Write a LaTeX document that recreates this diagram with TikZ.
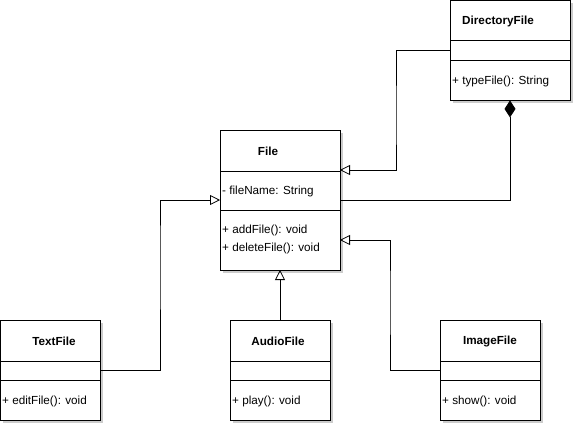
\documentclass[tikz,border=0pt]{standalone}
\usepackage{fontspec}
\setmainfont{Liberation Sans}
\usetikzlibrary{arrows.meta}
\tikzset{
  classbox/.style={draw=black, line width=0.8pt, fill=white, rectangle, anchor=north west, inner sep=0pt, outer sep=0pt},
  shadowbox/.style={fill=black!20, draw=none},
  sepline/.style={draw=black, line width=0.8pt},
  titletext/.style={font=\fontsize{11.7}{13}\selectfont\bfseries, inner sep=0pt},
  membertext/.style={font=\fontsize{11.7}{13}\selectfont, anchor=west, inner sep=0pt},
  conn/.style={draw=black, line width=0.8pt},
  inherit/.style={conn, -{Triangle[open, length=10pt, width=10pt, fill=white]}},
  compose/.style={conn, {Diamond[length=17pt, width=11pt]}-},
}
\begin{document}
\begin{tikzpicture}[x=1pt, y=-1pt]
\useasboundingbox (0,0) rectangle (575,425);
% shadows
\fill[shadowbox] (453,3) rectangle (573,103);
\fill[shadowbox] (223,133) rectangle (343,273);
\fill[shadowbox] (3,323) rectangle (103,423);
\fill[shadowbox] (233,323) rectangle (333,423);
\fill[shadowbox] (443,323) rectangle (543,423);
% boxes
\node[classbox, minimum width=120pt, minimum height=100pt] (dir) at (450,0.4) {};
\node[classbox, minimum width=120pt, minimum height=140pt] (file) at (220,130) {};
\node[classbox, minimum width=100pt, minimum height=100pt] (text) at (0.4,320) {};
\node[classbox, minimum width=100pt, minimum height=100pt] (audio) at (230,320) {};
\node[classbox, minimum width=100pt, minimum height=100pt] (image) at (440,320) {};
% separators
\draw[sepline] ([yshift=-40pt]dir.north west) -- ([yshift=-40pt]dir.north east);
\draw[sepline] ([yshift=-60pt]dir.north west) -- ([yshift=-60pt]dir.north east);
\draw[sepline] ([yshift=-41pt]file.north west) -- ([yshift=-41pt]file.north east);
\draw[sepline] ([yshift=-80pt]file.north west) -- ([yshift=-80pt]file.north east);
\foreach \b in {text,audio,image}{
  \draw[sepline] ([yshift=-41pt]\b.north west) -- ([yshift=-41pt]\b.north east);
  \draw[sepline] ([yshift=-60pt]\b.north west) -- ([yshift=-60pt]\b.north east);
}
% texts
\node[titletext] (dirt) at (498,21.5) {DirectoryFile};
\node[membertext] (dirm) at (452,81.5) {+ typeFile(): String};
\node[titletext] (filet) at (268,151.5) {File};
\node[membertext] (filea) at (222,191.5) {- fileName: String};
\node[membertext] (filem1) at (222,230.5) {+ addFile(): void};
\node[membertext] (filem2) at (222,248.5) {+ deleteFile(): void};
\node[titletext] (textt) at (54,341.5) {TextFile};
\node[membertext] (textm) at (2,401) {+ editFile(): void};
\node[titletext] (audiot) at (278,341.5) {AudioFile};
\node[membertext] (audiom) at (232,401) {+ play(): void};
\node[titletext] (imaget) at (490,341.5) {ImageFile};
\node[membertext] (imagem) at (442,401) {+ show(): void};
% connectors
\draw[inherit] ([yshift=-50pt]dir.north west) -| (396,120) |- ([yshift=-40pt]file.north east);
\draw[compose] ([xshift=60pt]dir.south west) |- ([yshift=-70pt]file.north east);
\draw[inherit] ([yshift=-50pt]text.north east) -| (160,250) |- ([yshift=-70pt]file.north west);
\draw[inherit] (audio.north) -- ([xshift=60pt]file.south west);
\draw[inherit] ([yshift=-50pt]image.north west) -| (390,300) |- ([yshift=-110pt]file.north east);
\end{tikzpicture}
\end{document}
